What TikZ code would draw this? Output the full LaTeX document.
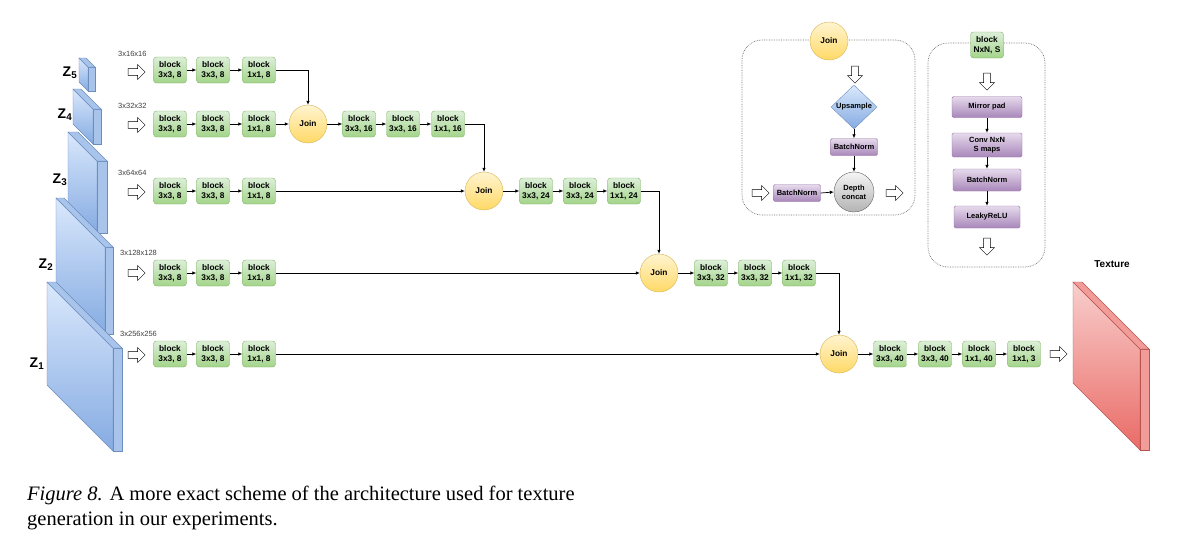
\documentclass[tikz,border=0pt]{standalone}
\usepackage{fontspec}
\setmainfont{Liberation Serif}
\setsansfont{Liberation Sans}
\usetikzlibrary{arrows.meta,shapes.geometric,shapes.arrows}

\definecolor{blkline}{HTML}{82B366}
\definecolor{blktop}{HTML}{DCEFD8}
\definecolor{blkbot}{HTML}{A3D48A}
\definecolor{joinline}{HTML}{D6B656}
\definecolor{jointop}{HTML}{FFF4D0}
\definecolor{joinbot}{HTML}{FFD966}
\definecolor{purpline}{HTML}{9673A6}
\definecolor{purptop}{HTML}{E6DAEC}
\definecolor{purpbot}{HTML}{A887BA}
\definecolor{greyline}{HTML}{666666}
\definecolor{greytop}{HTML}{F5F5F5}
\definecolor{greybot}{HTML}{B3B3B3}
\definecolor{zline}{HTML}{6C8EBF}
\definecolor{ztop}{HTML}{DAE8FC}
\definecolor{zbot}{HTML}{85ABE2}
\definecolor{zsidecol}{HTML}{A9C4EB}
\definecolor{texline}{HTML}{B85450}
\definecolor{textop}{HTML}{F8CECC}
\definecolor{texbot}{HTML}{EA6B66}
\definecolor{texsidecol}{HTML}{F19C99}

\tikzset{
	block/.style={rectangle, rounded corners=3pt, draw=blkline, top color=blktop, bottom color=blkbot, minimum width=33pt, minimum height=26pt, inner sep=0pt, align=center, font=\sffamily\bfseries\fontsize{8.3}{9.8}\selectfont},
	joinnode/.style={circle, draw=joinline, top color=jointop, bottom color=joinbot, minimum size=38pt, inner sep=0pt, font=\sffamily\bfseries\fontsize{8.3}{9.8}\selectfont},
	layer/.style={rectangle, rounded corners=1.5pt, draw=purpline, top color=purptop, bottom color=purpbot, minimum height=17pt, inner sep=0pt, align=center, font=\sffamily\bfseries\fontsize{7.5}{9}\selectfont},
	concat/.style={circle, draw=greyline, top color=greytop, bottom color=greybot, minimum size=40pt, inner sep=0pt, align=center, font=\sffamily\bfseries\fontsize{7.5}{9}\selectfont},
	updiamond/.style={diamond, draw=zline, top color=ztop, bottom color=zbot, minimum width=46pt, minimum height=44pt, inner sep=0pt, label={[font=\sffamily\bfseries\fontsize{7.5}{9}\selectfont]center:Upsample}},
	hollow/.style={single arrow, draw=black, fill=white, minimum height=17pt, minimum width=15pt, single arrow head extend=4pt, inner sep=3pt},
	conn/.style={-{Latex[length=4pt,width=3.5pt]}, line width=0.7pt},
	inset/.style={draw=black!55, densely dotted, line width=0.7pt, rounded corners=20pt},
	dimlabel/.style={anchor=west, inner sep=0pt, text=black!75, font=\sffamily\fontsize{7.5}{8}\selectfont},
	zlabel/.style={inner sep=0pt, font=\sffamily\bfseries\fontsize{14}{14}\selectfont},
	zface/.style={draw=zline, top color=ztop, bottom color=zbot},
	zside/.style={draw=zline, fill=zsidecol},
	texface/.style={draw=texline, top color=textop, bottom color=texbot},
	texside/.style={draw=texline, fill=texsidecol}
}
\def\slab[#1](#2,#3)(#4:#5:#6){
	\shadedraw[#1face] (#2,#3) -- ({#2+#4},{#3+#4}) -- ({#2+#4},{#3+#4+#5}) -- (#2,{#3+#5}) -- cycle;
	\filldraw[#1side] ({#2+#4},{#3+#4}) -- ({#2+#4+#6},{#3+#4}) -- ({#2+#4+#6},{#3+#4+#5}) -- ({#2+#4},{#3+#4+#5}) -- cycle;
	\filldraw[#1side] (#2,#3) -- ({#2+#6},#3) -- ({#2+#4+#6},{#3+#4}) -- ({#2+#4},{#3+#4}) -- cycle;
}

\begin{document}
\begin{tikzpicture}[x=1pt, y=-1pt]
			%%%%% START %%%%%
			\fill[white] (0,0) rectangle (1197,546);
			\useasboundingbox (0,0) rectangle (1197,546);
			
			% noise slabs
			\slab[z](79,58)(9:24:7)
			\slab[z](73,89)(20:35:8)
			\slab[z](68,132)(29:72:10)
			\slab[z](56,198)(49:87:8)
			\slab[z](47,282)(66:103:9)
			
			\node[zlabel] (z5) at (70,73) {Z\textsubscript{5}};
			\node[zlabel] (z4) at (65,115) {Z\textsubscript{4}};
			\node[zlabel] (z3) at (60,180) {Z\textsubscript{3}};
			\node[zlabel] (z2) at (46,265) {Z\textsubscript{2}};
			\node[zlabel] (z1) at (37,364) {Z\textsubscript{1}};
			
			\node[dimlabel] (d5) at (118,54) {3x16x16};
			\node[dimlabel] (d4) at (118,106) {3x32x32};
			\node[dimlabel] (d3) at (118,173) {3x64x64};
			\node[dimlabel] (d2) at (120,253) {3x128x128};
			\node[dimlabel] (d1) at (120,334) {3x256x256};
			
			\node[hollow] (ha5) at (135,72) {};
			\node[hollow] (ha4) at (135,125) {};
			\node[hollow] (ha3) at (135,192) {};
			\node[hollow] (ha2) at (135,273) {};
			\node[hollow] (ha1) at (135,355) {};
			
			% row 1
			\node[block] (b11) at (170,70) {block\\3x3, 8};
			\node[block] (b12) at (213,70) {block\\3x3, 8};
			\node[block] (b13) at (259,70) {block\\1x1, 8};
			\draw[conn] (b11) -- (b12);
			\draw[conn] (b12) -- (b13);
			
			% row 2
			\node[block] (b21) at (170,124) {block\\3x3, 8};
			\node[block] (b22) at (213,124) {block\\3x3, 8};
			\node[block] (b23) at (259,124) {block\\1x1, 8};
			\node[joinnode] (j1) at (308,124) {Join};
			\node[block] (c21) at (359,124) {block\\3x3, 16};
			\node[block] (c22) at (403,124) {block\\3x3, 16};
			\node[block] (c23) at (448,124) {block\\1x1, 16};
			\draw[conn] (b21) -- (b22);
			\draw[conn] (b22) -- (b23);
			\draw[conn] (b23) -- (j1);
			\draw[conn] (b13.east) -| (j1.north);
			\draw[conn] (j1) -- (c21);
			\draw[conn] (c21) -- (c22);
			\draw[conn] (c22) -- (c23);
			
			% row 3
			\node[block] (b31) at (170,191) {block\\3x3, 8};
			\node[block] (b32) at (213,191) {block\\3x3, 8};
			\node[block] (b33) at (259,191) {block\\1x1, 8};
			\node[joinnode] (j2) at (484,191) {Join};
			\node[block] (c31) at (536,191) {block\\3x3, 24};
			\node[block] (c32) at (580,191) {block\\3x3, 24};
			\node[block] (c33) at (624,191) {block\\1x1, 24};
			\draw[conn] (b31) -- (b32);
			\draw[conn] (b32) -- (b33);
			\draw[conn] (b33) -- (j2);
			\draw[conn] (c23.east) -| (j2.north);
			\draw[conn] (j2) -- (c31);
			\draw[conn] (c31) -- (c32);
			\draw[conn] (c32) -- (c33);
			
			% row 4
			\node[block] (b41) at (170,273) {block\\3x3, 8};
			\node[block] (b42) at (213,273) {block\\3x3, 8};
			\node[block] (b43) at (259,273) {block\\1x1, 8};
			\node[joinnode] (j3) at (659,273) {Join};
			\node[block] (c41) at (711,273) {block\\3x3, 32};
			\node[block] (c42) at (755,273) {block\\3x3, 32};
			\node[block] (c43) at (799,273) {block\\1x1, 32};
			\draw[conn] (b41) -- (b42);
			\draw[conn] (b42) -- (b43);
			\draw[conn] (b43) -- (j3);
			\draw[conn] (c33.east) -| (j3.north);
			\draw[conn] (j3) -- (c41);
			\draw[conn] (c41) -- (c42);
			\draw[conn] (c42) -- (c43);
			
			% row 5
			\node[block] (b51) at (170,354) {block\\3x3, 8};
			\node[block] (b52) at (213,354) {block\\3x3, 8};
			\node[block] (b53) at (259,354) {block\\1x1, 8};
			\node[joinnode] (j4) at (839,354) {Join};
			\node[block] (c51) at (890,354) {block\\3x3, 40};
			\node[block] (c52) at (935,354) {block\\3x3, 40};
			\node[block] (c53) at (979,354) {block\\1x1, 40};
			\node[block] (c54) at (1024,354) {block\\1x1, 3};
			\draw[conn] (b51) -- (b52);
			\draw[conn] (b52) -- (b53);
			\draw[conn] (b53) -- (j4);
			\draw[conn] (c43.east) -| (j4.north);
			\draw[conn] (j4) -- (c51);
			\draw[conn] (c51) -- (c52);
			\draw[conn] (c52) -- (c53);
			\draw[conn] (c53) -- (c54);
			\node[hollow] (hout) at (1057,354) {};
			
			% texture
			\slab[tex](1073,282)(67:101:9)
			\node[inner sep=0pt, font=\sffamily\bfseries\fontsize{10}{10}\selectfont] (tex) at (1112,264) {Texture};
			
			% join inset
			\draw[inset] (742,40) rectangle (915,215);
			\node[joinnode] (jx) at (829,41) {Join};
			\node[hollow, shape border rotate=270] (hx1) at (855,73) {};
			\node[updiamond] (up) at (854,107) {};
			\node[layer, minimum width=47pt] (bn1) at (854,147) {BatchNorm};
			\node[concat] (dc) at (854,192) {Depth\\concat};
			\node[layer, minimum width=47pt] (bn0) at (797,193) {BatchNorm};
			\node[hollow] (hx2) at (759,193) {};
			\node[hollow] (hx3) at (893,193) {};
			\draw[conn] (up.south) -- (bn1.north);
			\draw[conn] (bn1.south) -- (dc.north);
			\draw[conn] (bn0.east) -- (dc.west);
			
			% block inset
			\draw[inset] (928,43) rectangle (1045,267);
			\node[block] (bx) at (987,45) {block\\NxN, S};
			\node[hollow, shape border rotate=270] (hy1) at (987,80) {};
			\node[layer, minimum width=70pt, minimum height=21pt] (mp) at (987,107) {Mirror pad};
			\node[layer, minimum width=70pt, minimum height=24pt] (cv) at (987,145) {Conv NxN\\S maps};
			\node[layer, minimum width=68pt, minimum height=22pt] (bn2) at (987,180) {BatchNorm};
			\node[layer, minimum width=66pt, minimum height=22pt] (lr) at (987,217) {LeakyReLU};
			\node[hollow, shape border rotate=270] (hy2) at (987,245) {};
			\draw[conn] (mp) -- (cv);
			\draw[conn] (cv) -- (bn2);
			\draw[conn] (bn2) -- (lr);
			
			% caption
			\node[anchor=base west, inner sep=0pt, font=\fontsize{20.5}{24}\selectfont] (cap1) at (27,500) {\textit{Figure 8.} A more exact scheme of the architecture used for texture};
			\node[anchor=base west, inner sep=0pt, font=\fontsize{20.5}{24}\selectfont] (cap2) at (27,525) {generation in our experiments.};
			%%%%% END %%%%%
		\end{tikzpicture}
\end{document}
